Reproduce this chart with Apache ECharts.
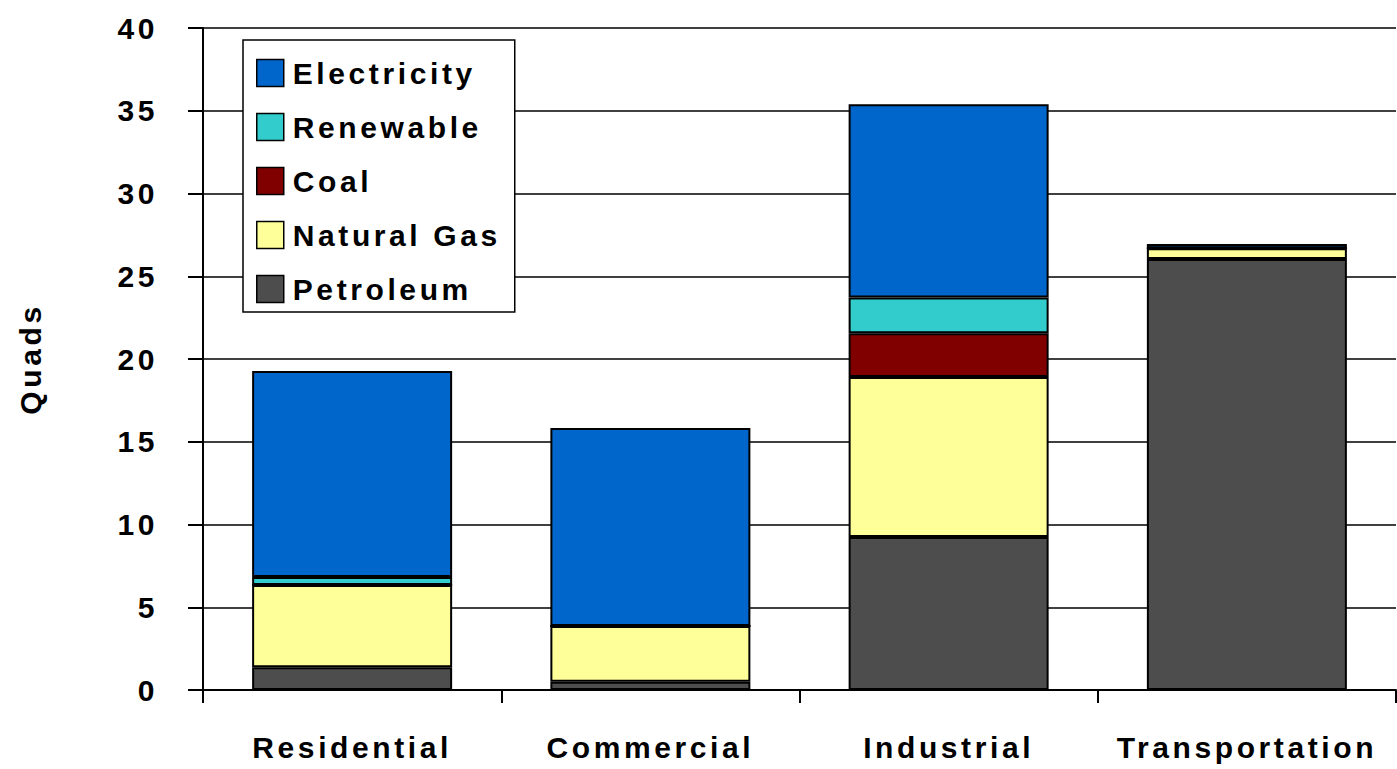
<!DOCTYPE html>
<html>
<head>
<meta charset="utf-8">
<script src="https://cdn.jsdelivr.net/npm/echarts@6/dist/echarts.min.js"></script>
<style>
html,body{margin:0;padding:0;background:#fff;}
#chart{width:1397px;height:769px;}
#chart text{letter-spacing:3.6px;}
</style>
</head>
<body>
<div id="chart"></div>
<script>
const categories = ['Residential', 'Commercial', 'Industrial', 'Transportation'];
const petroleum = [1.37, 0.5, 9.24, 26.04];
const naturalGas = [4.97, 3.37, 9.67, 0.65];
const coal = [0, 0, 2.64, 0];
const renewable = [0.49, 0, 2.16, 0];
const electricity = [12.44, 11.96, 11.68, 0.26];
const yTicks = [0, 5, 10, 15, 20, 25, 30, 35, 40];
const legendOrder = ['Electricity', 'Renewable', 'Coal', 'Natural Gas', 'Petroleum'];

const FONT = '"Liberation Sans", Arial, sans-serif';
const chart = echarts.init(document.getElementById('chart'), null, { renderer: 'svg' });

function mk(name, data, color) {
  return {
    name: name, type: 'bar', stack: 'total', data: data, barWidth: 200,
    itemStyle: { color: color, borderColor: '#000', borderWidth: 2 },
    emphasis: { disabled: true }
  };
}

chart.setOption({
  animation: false,
  backgroundColor: '#fff',
  grid: { left: 203, right: 1, top: 28, bottom: 79, containLabel: false },
  legend: {
    data: legendOrder,
    orient: 'vertical',
    left: 243, top: 40,
    padding: [18, 12, 8, 13],
    itemWidth: 27, itemHeight: 27, itemGap: 24,
    borderColor: '#000', borderWidth: 1.5,
    backgroundColor: '#fff',
    icon: 'rect',
    itemStyle: { borderColor: '#000', borderWidth: 1.5 },
    textStyle: { fontFamily: FONT, fontWeight: 'bold', fontSize: 30, lineHeight: 30, color: '#000', width: 210, padding: [0, 0, 0, 4] }
  },
  xAxis: {
    type: 'category', data: categories,
    axisLine: { lineStyle: { color: '#000', width: 2 } },
    axisTick: { show: true, length: 13, lineStyle: { color: '#000', width: 2 } },
    axisLabel: { margin: 42, fontFamily: FONT, fontWeight: 'bold', fontSize: 30, color: '#000' }
  },
  yAxis: {
    type: 'value', min: yTicks[0], max: yTicks[yTicks.length - 1], interval: 5,
    name: 'Quads', nameLocation: 'middle', nameRotate: 90, nameGap: 158,
    nameTextStyle: { fontFamily: FONT, fontWeight: 'bold', fontSize: 30, color: '#000' },
    axisLine: { show: true, lineStyle: { color: '#000', width: 2 } },
    axisTick: { show: true, length: 15, lineStyle: { color: '#000', width: 2 } },
    splitLine: { show: true, lineStyle: { color: '#000', width: 1.5 } },
    axisLabel: { margin: 45, fontFamily: FONT, fontWeight: 'bold', fontSize: 30, color: '#000' }
  },
  series: [
    mk('Petroleum', petroleum, '#4d4d4d'),
    mk('Natural Gas', naturalGas, '#ffff99'),
    mk('Coal', coal, '#800000'),
    mk('Renewable', renewable, '#33cccc'),
    mk('Electricity', electricity, '#0066cc')
  ]
});
</script>
</body>
</html>
